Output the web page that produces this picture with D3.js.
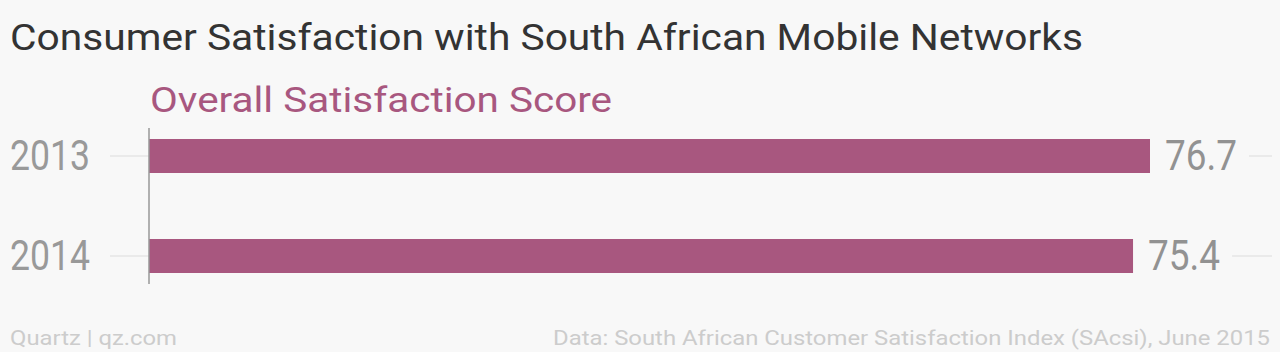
<!DOCTYPE html>
<html><head><meta charset="utf-8">
<script src="https://cdn.jsdelivr.net/npm/d3@7"></script>
<style>html,body{margin:0;padding:0;background:#f8f8f8;}svg{display:block;}</style>
</head><body>
<script>
const categories = ["2013", "2014"];
const values = [76.7, 75.4];
const valueLabels = ["76.7", "75.4"];
const title = "Consumer Satisfaction with South African Mobile Networks";
const subtitle = "Overall Satisfaction Score";
const credit = "Quartz | qz.com";
const source = "Data: South African Customer Satisfaction Index (SAcsi), June 2015";

const W = 1280, H = 352;
const svg = d3.select("body").append("svg").attr("width", W).attr("height", H);
svg.append("rect").attr("width", W).attr("height", H).attr("fill", "#f8f8f8");

const x0 = 149;
const x = d3.scaleLinear().domain([0, 76.7]).range([x0, 1150]);
const y = d3.scaleBand().domain(categories).range([106, 306]).paddingInner(0.66).paddingOuter(0.33);

svg.append("text").attr("x", 10).attr("y", 50).text(title)
  .attr("font-family", "Roboto, sans-serif").attr("font-size", 36).attr("fill", "#333")
  .attr("textLength", 1073).attr("lengthAdjust", "spacingAndGlyphs");

svg.append("text").attr("x", 150).attr("y", 112).text(subtitle)
  .attr("font-family", "Roboto, sans-serif").attr("font-size", 35).attr("fill", "#a8577f")
  .attr("textLength", 462).attr("lengthAdjust", "spacingAndGlyphs");

const rows = svg.append("g").selectAll("g").data(categories).join("g");

// left grid stubs
rows.append("line").attr("x1", 110).attr("x2", x0)
  .attr("y1", d => y(d) + y.bandwidth() / 2).attr("y2", d => y(d) + y.bandwidth() / 2)
  .attr("stroke", "#e6e6e6").attr("stroke-width", 1.5);

rows.append("rect").attr("x", x0).attr("y", d => y(d))
  .attr("width", (d, i) => x(values[i]) - x0).attr("height", y.bandwidth())
  .attr("fill", "#a8577f");

rows.append("text").attr("x", 10).attr("y", d => y(d) + y.bandwidth() / 2 + 14)
  .text(d => d).attr("font-family", "Roboto, sans-serif")
  .attr("font-size", 43).attr("fill", "#999")
  .attr("textLength", 80).attr("lengthAdjust", "spacingAndGlyphs");

rows.append("text").attr("x", (d, i) => x(values[i]) + 15)
  .attr("y", d => y(d) + y.bandwidth() / 2 + 14)
  .text((d, i) => valueLabels[i]).attr("font-family", "Roboto, sans-serif")
  .attr("font-size", 42).attr("fill", "#929292")
  .attr("textLength", 72).attr("lengthAdjust", "spacingAndGlyphs");

// right grid stubs
rows.append("line").attr("x1", (d, i) => x(values[i]) + 15 + 72 + 12).attr("x2", 1272)
  .attr("y1", d => y(d) + y.bandwidth() / 2).attr("y2", d => y(d) + y.bandwidth() / 2)
  .attr("stroke", "#e6e6e6").attr("stroke-width", 1.5);

// axis line
svg.append("line").attr("x1", x0).attr("x2", x0).attr("y1", 128).attr("y2", 284)
  .attr("stroke", "#999").attr("stroke-width", 1.5);

svg.append("text").attr("x", 10).attr("y", 345).text(credit)
  .attr("font-family", "Roboto, sans-serif").attr("font-size", 21).attr("fill", "#ccc")
  .attr("textLength", 167).attr("lengthAdjust", "spacingAndGlyphs");
svg.append("text").attr("x", 1270).attr("y", 345).attr("text-anchor", "end").text(source)
  .attr("font-family", "Roboto, sans-serif").attr("font-size", 21).attr("fill", "#ccc")
  .attr("textLength", 717).attr("lengthAdjust", "spacingAndGlyphs");
</script>
</body></html>
